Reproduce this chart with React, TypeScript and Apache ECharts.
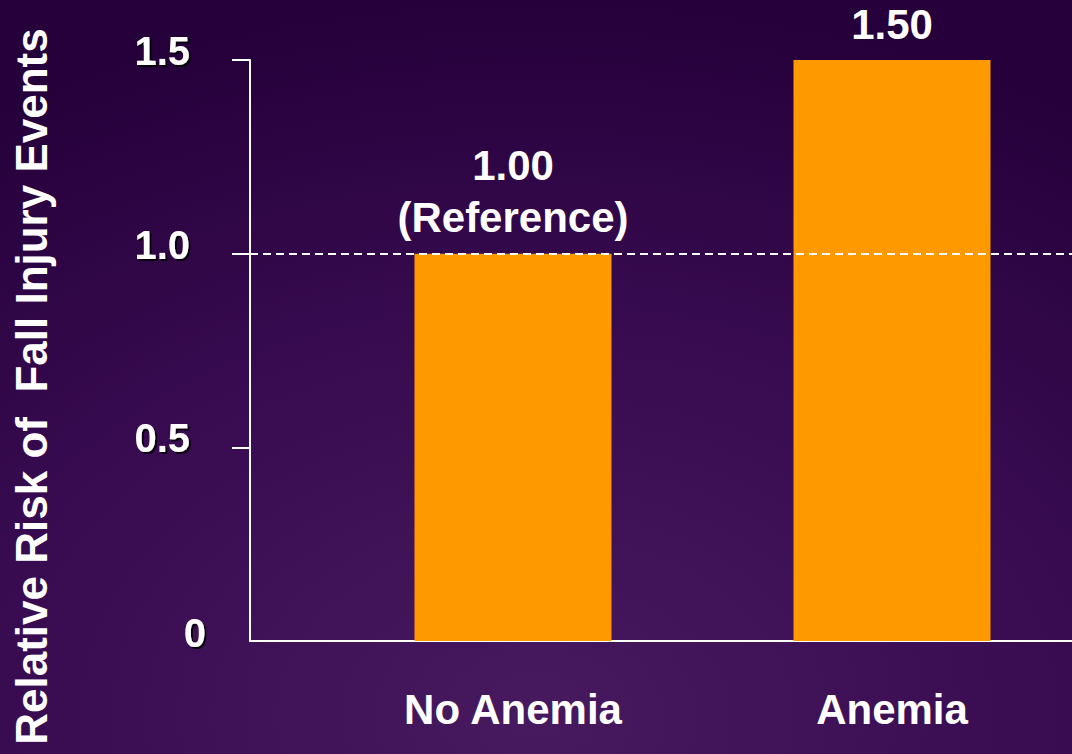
import React, { useEffect, useRef } from "react";
import * as echarts from "echarts";

const categories = ["No Anemia", "Anemia"];
const values = [1.0, 1.5];
const valueLabels = ["1.00\n(Reference)", "1.50"];
const yTicks = [0, 0.5, 1.0, 1.5];
const referenceValue = 1.0;
const yTitle = "Relative Risk of  Fall Injury Events";

const FONT = "'Liberation Sans', Arial, Helvetica, sans-serif";

export default function App() {
  const ref = useRef<HTMLDivElement>(null);
  useEffect(() => {
    document.body.style.margin = "0";
    const chart = echarts.init(ref.current!, null, { renderer: "svg" });
    const shadow = {
      textShadowColor: "rgba(0,0,0,0.85)",
      textShadowOffsetX: 2,
      textShadowOffsetY: 2,
      textShadowBlur: 1,
    };
    chart.setOption({
      animation: false,
      backgroundColor: {
        type: "radial",
        x: 0.5,
        y: 0.95,
        r: 0.95,
        colorStops: [
          { offset: 0, color: "#47195f" },
          { offset: 0.55, color: "#380b50" },
          { offset: 1, color: "#25003a" },
        ],
      },
      grid: [
        { left: 250, right: 0, top: 60, bottom: 113, outerBoundsMode: "none", containLabel: false },
        { left: 323.5, width: 758, top: 60, bottom: 113, outerBoundsMode: "none", containLabel: false },
      ],
      xAxis: [
        {
          gridIndex: 0,
          type: "value",
          min: 0,
          max: 1,
          axisLine: { show: true, lineStyle: { color: "#ffffff", width: 2 } },
          axisTick: { show: false },
          axisLabel: { show: false },
          splitLine: { show: false },
        },
        {
          gridIndex: 1,
          type: "category",
          data: categories,
          axisLine: { show: false },
          axisTick: { show: false },
          axisLabel: {
            color: "#ffffff",
            fontFamily: FONT,
            fontWeight: "bold",
            fontSize: 42,
            margin: 47,
          },
        },
      ],
      yAxis: [
        {
          gridIndex: 0,
          type: "value",
          min: 0,
          max: 1.5,
          interval: 0.5,
          name: yTitle,
          nameLocation: "middle",
          nameGap: 197,
          nameTextStyle: {
            color: "#ffffff",
            fontFamily: FONT,
            fontWeight: "bold",
            fontSize: 44,
            padding: [0, 72, 0, 0],
          },
          axisLine: { show: true, lineStyle: { color: "#ffffff", width: 2 } },
          axisTick: {
            show: true,
            length: 18,
            customValues: yTicks.filter((v) => v !== 0),
            lineStyle: { color: "#ffffff", width: 2 },
          },
          splitLine: { show: false },
          axisLabel: {
            margin: 44,
            color: "#ffffff",
            fontFamily: FONT,
            fontWeight: "bold",
            fontSize: 40,
            formatter: (v: number) =>
              v === 0 ? "{z|0}" : "{n|" + v.toFixed(1) + "}",
            rich: {
              n: {
                color: "#ffffff",
                fontFamily: FONT,
                fontWeight: "bold",
                fontSize: 40,
                padding: [0, 16, 18, 0],
                ...shadow,
              },
              z: {
                color: "#ffffff",
                fontFamily: FONT,
                fontWeight: "bold",
                fontSize: 40,
                padding: [0, 0, 16, 0],
                ...shadow,
              },
            },
          },
        },
        {
          gridIndex: 1,
          type: "value",
          min: 0,
          max: 1.5,
          show: false,
        },
      ],
      series: [
        {
          type: "line",
          xAxisIndex: 0,
          yAxisIndex: 0,
          data: [[0, 0]],
          showSymbol: false,
          lineStyle: { opacity: 0 },
          silent: true,
          markLine: {
            silent: true,
            symbol: "none",
            label: { show: false },
            lineStyle: { color: "#ffffff", type: [8, 5], width: 2 },
            data: [{ yAxis: referenceValue }],
          },
        },
        {
          type: "bar",
          xAxisIndex: 1,
          yAxisIndex: 1,
          barWidth: 197,
          itemStyle: { color: "#ff9900" },
          data: values.map((v, i) => ({
            value: v,
            label: {
              show: true,
              position: "top",
              distance: 10,
              formatter: valueLabels[i],
              color: "#ffffff",
              fontFamily: FONT,
              fontWeight: "bold",
              fontSize: 42,
              lineHeight: 52,
            },
          })),
        },
      ],
    });
    return () => chart.dispose();
  }, []);
  return (
    <div
      ref={ref}
      style={{ position: "absolute", left: 0, top: 0, width: 1072, height: 754 }}
    />
  );
}
